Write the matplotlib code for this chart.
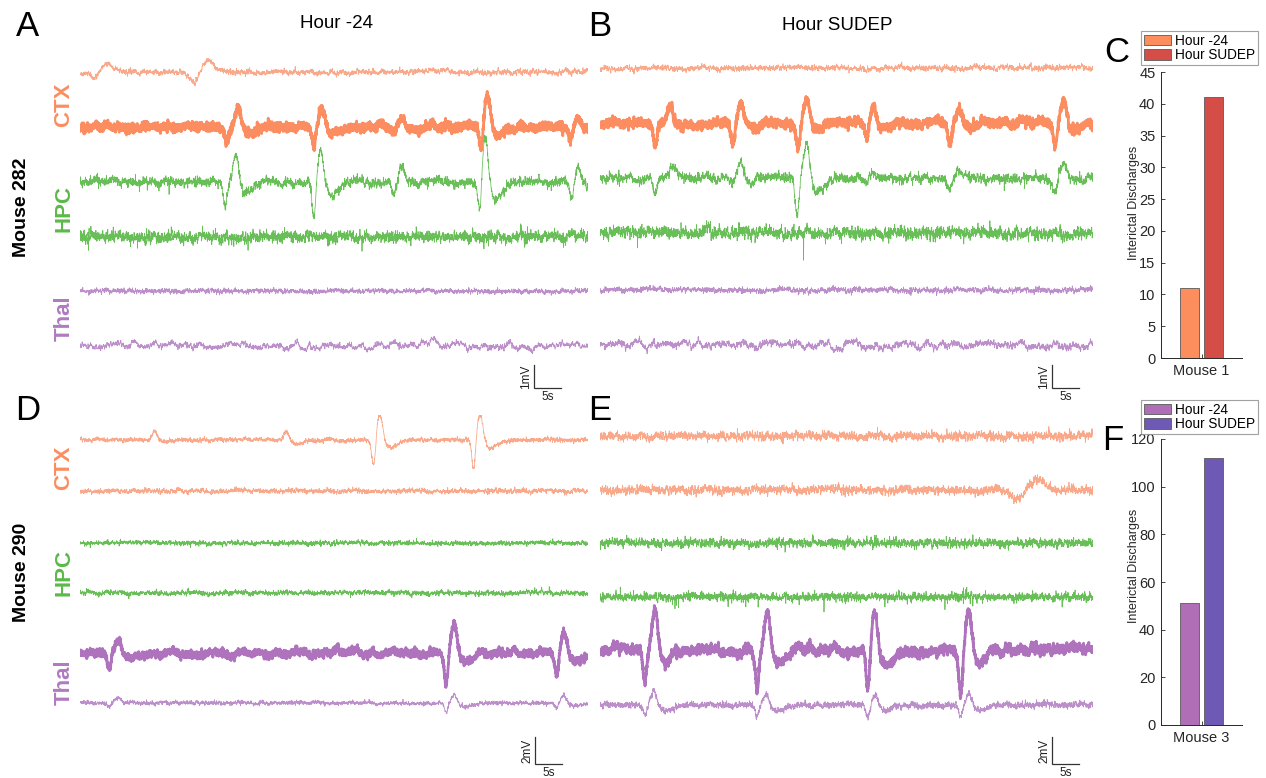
import numpy as np
import matplotlib
matplotlib.use('Agg')
import matplotlib.pyplot as plt
from matplotlib.patches import Patch

plt.rcParams['font.family'] = ['Liberation Sans', 'DejaVu Sans']

# ---------------------------------------------------------------- data
CHANNELS = ['CTX', 'HPC', 'Thal']

# discharge events, one list per trace (top to bottom)
# each event: (t_trough s, v_trough mV, t_peak s, v_peak mV, v_afterwave mV)
EVENTS_A = [
    [(2.96, -0.43, 4.63, 0.39, 0.0), (21.3, -0.57, 23.5, 0.52, 0.0)],
    [(27.2, -0.65, 29.3, 0.96, -0.26), (43.3, -0.91, 44.8, 0.87, -0.26),
     (58.1, -0.22, 59.6, 0.39, -0.09), (74.3, -1.13, 75.4, 1.48, -0.30),
     (90.9, -0.57, 92.2, 0.39, -0.10)],
    [(26.9, -1.09, 28.9, 1.39, -0.48), (43.3, -1.52, 44.6, 1.52, -0.57),
     (58.1, -0.43, 59.6, 0.74, -0.10), (74.1, -1.52, 75.0, 2.26, -0.78),
     (91.1, -0.87, 92.2, 0.74, -0.20)],
    [],
    [],
    [(64.6, -0.05, 65.2, 0.30, 0.0)],
]
EVENTS_B = [
    [],
    [(10.2, -0.96, 13.0, 0.70, -0.15), (24.6, -0.83, 26.1, 1.00, -0.20),
     (36.7, -1.13, 38.3, 1.13, -0.30), (49.4, -0.61, 50.7, 0.70, -0.20),
     (64.8, -0.87, 66.5, 0.65, -0.20), (84.3, -1.04, 85.9, 1.04, -0.25)],
    [(10.2, -0.61, 13.5, 0.48, 0.0), (24.6, -0.22, 26.1, 0.65, -0.10),
     (36.5, -1.74, 38.3, 1.57, -0.65), (49.4, -0.15, 50.7, 0.30, 0.0),
     (64.8, -0.43, 66.5, 0.22, 0.0), (84.3, -0.61, 85.9, 0.70, -0.10)],
    [],
    [],
    [],
]
EVENTS_D = [
    [(13.2, -0.30, 13.7, 0.81, -0.15), (37.6, -0.25, 38.1, 0.74, -0.25),
     (54.4, -2.07, 55.5, 2.07, -0.52), (72.9, -2.22, 74.1, 2.07, -0.59)],
    [],
    [],
    [],
    [(5.4, -1.04, 7.0, 1.04, -0.20), (47.0, -0.10, 47.6, 0.37, 0.0),
     (67.8, -2.52, 69.3, 2.30, -0.74), (88.3, -1.78, 89.6, 1.70, -0.59)],
    [(5.4, -0.30, 7.0, 0.30, 0.0), (67.8, -0.74, 69.3, 0.74, -0.30),
     (88.3, -0.40, 89.6, 0.59, -0.20)],
]
EVENTS_E = [
    [],
    [(77.2, -0.74, 81.1, 0.89, 0.0)],
    [],
    [],
    [(8.3, -2.22, 10.2, 3.48, -0.96), (29.1, -2.81, 31.0, 3.04, -0.96),
     (49.6, -3.11, 50.9, 3.04, -0.89), (66.8, -3.33, 68.3, 3.19, -0.89)],
    [(8.3, -0.74, 10.0, 1.11, -0.40), (29.1, -0.89, 30.8, 0.96, -0.40),
     (49.6, -0.89, 50.9, 0.89, -0.40), (66.8, -0.89, 68.3, 0.96, -0.40)],
]

# background activity level of each trace (fast, medium, slow), mV
NOISE_A = [(0.03, 0.05, 0.03), (0.08, 0.05, 0.05), (0.06, 0.07, 0.05),
           (0.08, 0.09, 0.04), (0.03, 0.04, 0.02), (0.02, 0.05, 0.08)]
NOISE_B = [(0.03, 0.05, 0.03), (0.08, 0.05, 0.06), (0.06, 0.07, 0.06),
           (0.08, 0.10, 0.05), (0.03, 0.05, 0.03), (0.03, 0.06, 0.09)]
NOISE_D = [(0.05, 0.06, 0.03), (0.05, 0.07, 0.03), (0.05, 0.06, 0.03),
           (0.05, 0.07, 0.04), (0.11, 0.08, 0.10), (0.05, 0.05, 0.03)]
NOISE_E = [(0.10, 0.12, 0.05), (0.10, 0.12, 0.05), (0.10, 0.12, 0.03),
           (0.10, 0.10, 0.03), (0.13, 0.10, 0.15), (0.08, 0.08, 0.04)]

# bar panels
BAR_LABELS = ['Hour -24', 'Hour SUDEP']
MOUSE1_COUNTS = [11, 41]
MOUSE3_COUNTS = [51, 112]
MOUSE1_TICK = 'Mouse 1'
MOUSE3_TICK = 'Mouse 3'

# ---------------------------------------------------------------- figure
W, H = 1266, 778
fig = plt.figure(figsize=(W / 100, H / 100), dpi=100)


def px_axes(x0, y0, x1, y1):
    return fig.add_axes([x0 / W, 1 - y1 / H, (x1 - x0) / W, (y1 - y0) / H])


def ftext(x, y, s, **kw):
    fig.text(x / W, 1 - y / H, s, **kw)


C_CTX_THIN, C_CTX_THICK = '#F9A88A', '#FB8D60'
C_HPC = '#68BE57'
C_THAL_THIN, C_THAL_THICK = '#BC8ECA', '#AE73BC'
C_LABEL_CTX, C_LABEL_HPC, C_LABEL_THAL = '#FB8D60', '#5DB94A', '#B07BC0'

PX_PER_S = 5.4
FS = 50.0
rng = np.random.default_rng(7)  # background texture only


def unit(x, k):
    if k > 1:
        x = np.convolve(x, np.ones(k) / k, mode='same')
    return x / x.std()


def build(t, events, noise, widths, heavy=False, negspikes=False):
    w1, w2, w3 = widths
    v = np.zeros_like(t)
    for tt, vt, tp, vp, va in events:
        v += vt * np.exp(-0.5 * ((t - tt) / w1) ** 2)
        v += vp * np.exp(-0.5 * ((t - tp) / w2) ** 2)
        v += va * np.exp(-0.5 * ((t - (tp + 2.0)) / w3) ** 2)
    f, m, s = noise
    n = len(t)
    fast = rng.standard_t(5, n) if heavy else rng.standard_normal(n)
    v += f * unit(fast, 1) + m * unit(rng.standard_normal(n), 6) \
        + s * unit(rng.standard_normal(n), 60)
    if negspikes:
        e = rng.standard_normal(n)
        v -= 0.35 * np.clip(e - 2.3, 0, None) / 0.5
    return v


def trace_panel(x0, x1, y0, y1, px_per_mv, base_px, events, noise, thick_idx,
                bar_mv, bar_label, bar_px):
    ax = px_axes(x0, y0, x1, y1)
    T = (x1 - x0) / PX_PER_S
    t = np.arange(0, T, 1 / FS)
    for i in range(6):
        ch = CHANNELS[i // 2]
        thick = (i == thick_idx)
        if ch == 'CTX':
            col = C_CTX_THICK if thick else C_CTX_THIN
        elif ch == 'HPC':
            col = C_HPC
        else:
            col = C_THAL_THICK if thick else C_THAL_THIN
        widths = (0.35, 0.55, 1.3)
        slow_evt = any(abs(e[2] - e[0]) > 1.9 for e in events[i]) and not thick and ch == 'CTX'
        if slow_evt:
            widths = (0.9, 1.2, 1.3)
        v = build(t, events[i], noise[i], widths,
                  heavy=(ch == 'HPC'),
                  negspikes=(ch == 'HPC' and i == 3 and noise[i][0] > 0.09))
        off = (y1 - base_px[i]) / px_per_mv
        ax.plot(t, v + off, color=col, lw=2.0 if thick else 0.55,
                solid_joinstyle='round')
    ax.set_xlim(0, T)
    ax.set_ylim(0, (y1 - y0) / px_per_mv)
    ax.axis('off')
    # scale bar
    bx, by = bar_px
    sx = (bx - x0) / PX_PER_S
    sy = (y1 - by) / px_per_mv
    ax.plot([sx, sx, sx + 5], [sy + bar_mv, sy, sy], color='#333333', lw=0.9,
            clip_on=False, solid_joinstyle='miter')
    ax.text(sx - 1.4, sy + bar_mv / 2, bar_label, rotation=90, ha='center',
            va='center', fontsize=8.5, color='#222222')
    ax.text(sx + 2.6, sy - 9 / px_per_mv, '5s', ha='center', va='center',
            fontsize=8.5, color='#222222')
    return ax


trace_panel(80, 588, 40, 400, 23.0, [72, 127, 182, 237, 291, 346],
            EVENTS_A, NOISE_A, 1, 1, '1mV', (534, 388))
trace_panel(600, 1093, 40, 400, 23.0, [68, 123, 178, 233, 290, 345],
            EVENTS_B, NOISE_B, 1, 1, '1mV', (1052, 388))
trace_panel(80, 588, 415, 778, 13.5, [440, 491, 543, 593, 653, 703],
            EVENTS_D, NOISE_D, 4, 2, '2mV', (535, 764))
trace_panel(600, 1093, 415, 778, 13.5, [436, 490, 543, 597, 650, 705],
            EVENTS_E, NOISE_E, 4, 2, '2mV', (1052, 764))


# ---------------------------------------------------------------- bars
def bar_panel(y0, y1, counts, colors, ymax, step, tick, ylab_y, leg_y):
    ax = px_axes(1161, y0, 1242, y1)
    xs = [1 - 0.143, 1 + 0.143]
    ax.bar(xs, counts, width=0.235, color=colors, edgecolor='#5a5a5a', lw=0.6)
    ax.set_xlim(0.5, 1.5)
    ax.set_ylim(0, ymax)
    ax.set_yticks(np.arange(0, ymax + 0.1, step))
    ax.set_xticks([1])
    ax.set_xticklabels([tick])
    for s in ['top', 'right']:
        ax.spines[s].set_visible(False)
    for s in ['left', 'bottom']:
        ax.spines[s].set_color('#262626')
        ax.spines[s].set_linewidth(0.7)
    ax.tick_params(direction='in', length=3, width=0.6, colors='#262626',
                   labelsize=10.5, pad=4)
    ftext(1134, ylab_y, 'Interictal Discharges', rotation=90, ha='center',
          va='center', fontsize=9, color='#262626')
    handles = [Patch(facecolor=c, edgecolor='#5a5a5a', lw=0.6) for c in colors]
    leg = fig.legend(handles, BAR_LABELS, loc='upper left',
                     bbox_to_anchor=(1141 / W, 1 - leg_y / H), fontsize=9.8,
                     frameon=True, fancybox=False, borderpad=0.2,
                     labelspacing=0.05, handlelength=2.0, handleheight=0.8,
                     handletextpad=0.3, borderaxespad=0)
    leg.get_frame().set_edgecolor('#8a8a8a')
    leg.get_frame().set_linewidth(0.8)
    return ax


bar_panel(72, 358, MOUSE1_COUNTS, ['#FC8D5C', '#D44D47'], 45, 5,
          MOUSE1_TICK, 203, 31)
bar_panel(439, 725, MOUSE3_COUNTS, ['#B06EB6', '#6E5AB5'], 120, 20,
          MOUSE3_TICK, 566, 400)

# ---------------------------------------------------------------- texts
for letter, x, y in [('A', 28, 26), ('B', 600, 26), ('C', 1117, 52),
                     ('D', 28, 410), ('E', 600, 410), ('F', 1113, 440)]:
    ftext(x, y, letter, fontsize=25, ha='center', va='center', color='black')

ftext(336, 23, 'Hour -24', fontsize=13.5, ha='center', va='center')
ftext(837, 25, 'Hour SUDEP', fontsize=13.5, ha='center', va='center')

ftext(22, 207, 'Mouse 282', rotation=90, fontsize=14, fontweight='bold',
      ha='center', va='center')
ftext(22, 572, 'Mouse 290', rotation=90, fontsize=14, fontweight='bold',
      ha='center', va='center')

for lab, col, y in [('CTX', C_LABEL_CTX, 105), ('HPC', C_LABEL_HPC, 208),
                    ('Thal', C_LABEL_THAL, 318),
                    ('CTX', C_LABEL_CTX, 468), ('HPC', C_LABEL_HPC, 572),
                    ('Thal', C_LABEL_THAL, 682)]:
    ftext(64, y, lab, rotation=90, fontsize=16, fontweight='bold',
          color=col, ha='center', va='center')

fig.savefig('out.png', dpi=100)
